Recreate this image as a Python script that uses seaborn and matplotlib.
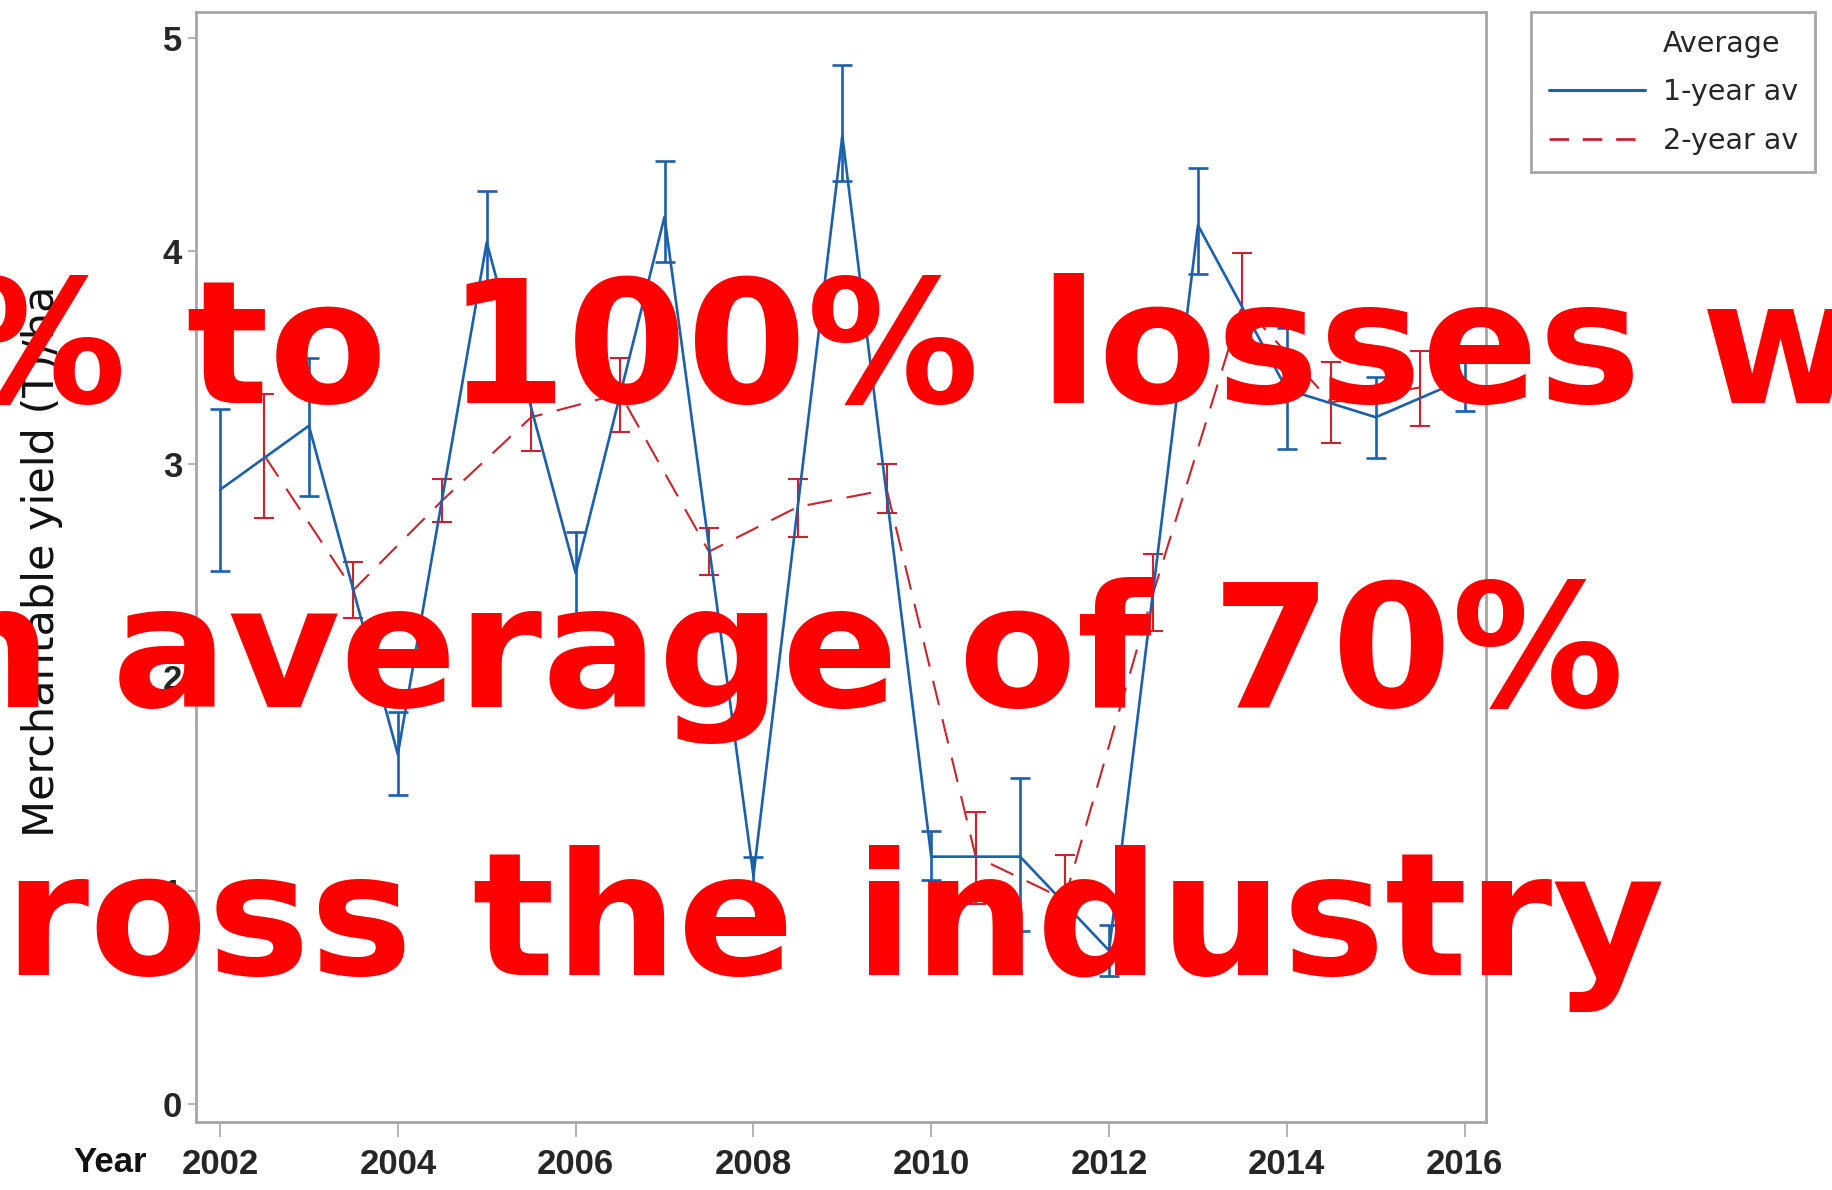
import numpy as np
import pandas as pd
import matplotlib
matplotlib.use("Agg")
import matplotlib.pyplot as plt
import seaborn as sns
from matplotlib.lines import Line2D

# ---------------- data ----------------
years_1yr = [2002, 2003, 2004, 2005, 2006, 2007, 2008, 2009, 2010, 2011, 2012, 2013, 2014, 2015, 2016]
avg_1yr = [2.88, 3.18, 1.64, 4.04, 2.49, 4.16, 1.07, 4.54, 1.16, 1.16, 0.72, 4.12, 3.35, 3.22, 3.40]
low_1yr = [2.50, 2.85, 1.45, 3.82, 2.27, 3.95, 0.99, 4.33, 1.05, 0.81, 0.60, 3.89, 3.07, 3.03, 3.25]
high_1yr = [3.26, 3.50, 1.84, 4.28, 2.68, 4.42, 1.16, 4.87, 1.28, 1.53, 0.84, 4.39, 3.64, 3.41, 3.55]

years_2yr = [2002.5, 2003.5, 2004.5, 2005.5, 2006.5, 2007.5, 2008.5, 2009.5, 2010.5, 2011.5, 2012.5, 2013.5, 2014.5, 2015.5]
avg_2yr = [3.04, 2.41, 2.83, 3.22, 3.33, 2.59, 2.80, 2.88, 1.16, 0.96, 2.40, 3.75, 3.29, 3.36]
low_2yr = [2.75, 2.28, 2.73, 3.06, 3.15, 2.48, 2.66, 2.77, 0.94, 0.78, 2.22, 3.51, 3.10, 3.18]
high_2yr = [3.33, 2.54, 2.93, 3.34, 3.50, 2.70, 2.93, 3.00, 1.37, 1.17, 2.58, 3.99, 3.48, 3.53]

series_labels = ["1-year av", "2-year av"]
legend_title = "Average"
x_label = "Year"
y_label = "Merchantable yield (T)/ha"
x_ticks = [2002, 2004, 2006, 2008, 2010, 2012, 2014, 2016]
y_ticks = [0, 1, 2, 3, 4, 5]
overlay_lines = ["30% to 100% losses with", "an average of 70%", "across the industry"]

# ---------------- style ----------------
BLUE = "#1c5fab"
RED = "#c8242b"
GREY = "#a6a6a6"

sns.set_style("white")
plt.rcParams["font.family"] = ["DejaVu Sans"]

W, H = 1832, 1190
fig = plt.figure(figsize=(W / 100, H / 100), dpi=100)
ax = fig.add_axes([196 / W, 1 - 1122 / H, (1486 - 196) / W, (1122 - 12) / H])

df1 = pd.DataFrame({"Year": years_1yr, "Value": avg_1yr})
df2 = pd.DataFrame({"Year": years_2yr, "Value": avg_2yr})

sns.lineplot(data=df1, x="Year", y="Value", ax=ax, color=BLUE, linewidth=1.9, zorder=3)
sns.lineplot(data=df2, x="Year", y="Value", ax=ax, color=RED, linewidth=1.5, zorder=2)
ax.lines[1].set_dashes((12, 7))

a1 = np.array(avg_1yr)
ax.errorbar(years_1yr, a1, yerr=[a1 - np.array(low_1yr), np.array(high_1yr) - a1],
            fmt="none", ecolor=BLUE, elinewidth=1.9, capsize=7, capthick=1.9, zorder=3)
a2 = np.array(avg_2yr)
ax.errorbar(years_2yr, a2, yerr=[a2 - np.array(low_2yr), np.array(high_2yr) - a2],
            fmt="none", ecolor=RED, elinewidth=1.5, capsize=7, capthick=1.5, zorder=2)

ax.set_xlim(2001.73, 2016.24)
ax.set_ylim(-0.084, 5.12)
ax.set_xticks(x_ticks)
ax.set_yticks(y_ticks)
ax.set_xticklabels([str(t) for t in x_ticks], fontfamily="Liberation Sans", fontweight="bold", fontsize=25)
ax.set_yticklabels([str(t) for t in y_ticks], fontfamily="Liberation Sans", fontweight="bold", fontsize=25)
ax.tick_params(axis="x", length=11, width=1.2, color=GREY, pad=8, bottom=True)
ax.tick_params(axis="y", length=6, width=1.2, color=GREY, pad=4, left=True)
ax.set_xlabel("")
ax.set_ylabel("")
for s in ax.spines.values():
    s.set_color(GREY)
    s.set_linewidth(2)

fig.text(42 / W, 1 - 561 / H, y_label, rotation=90, ha="center", va="center",
         fontsize=31, color="#111111")
fig.text(110 / W, 1 - 1162 / H, x_label, ha="center", va="center",
         fontfamily="Liberation Sans", fontweight="bold", fontsize=25, color="#111111")

handles = [Line2D([], [], color="none"),
           Line2D([], [], color=BLUE, linewidth=2.2),
           Line2D([], [], color=RED, linewidth=2.0, dashes=(7, 5))]
labels = [legend_title] + series_labels
leg = fig.legend(handles, labels, loc="upper left", bbox_to_anchor=(1531 / W, 1 - 12 / H),
                 borderaxespad=0, frameon=True, fancybox=False, framealpha=1, edgecolor=GREY,
                 fontsize=20.5, handlelength=3.4, handletextpad=0.6, labelspacing=0.72,
                 borderpad=0.62)
leg.get_frame().set_linewidth(2)

# overlay text
ov = dict(color="#ff0000", fontfamily="DejaVu Sans", fontweight="bold", fontsize=124, va="baseline")
fig.text(-286 / W, 1 - 403 / H, overlay_lines[0], ha="left", **ov)
fig.text(1624 / W, 1 - 707 / H, overlay_lines[1], ha="right", **ov)
fig.text(1665 / W, 1 - 975 / H, overlay_lines[2], ha="right", **ov)

fig.savefig("out.png", dpi=100)
